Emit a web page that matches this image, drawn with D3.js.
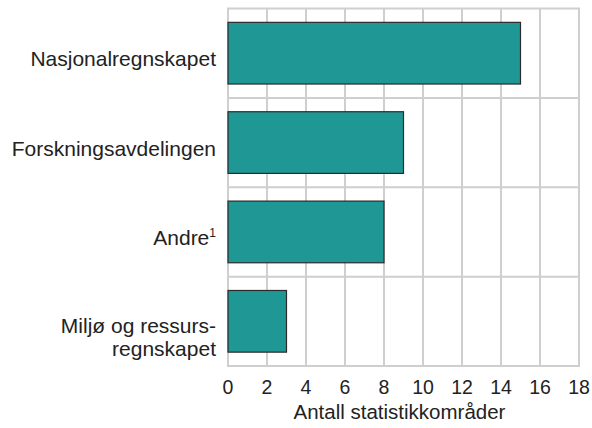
<!DOCTYPE html>
<html>
<head>
<meta charset="utf-8">
<script src="https://cdn.jsdelivr.net/npm/d3@7"></script>
<style>
  body { margin: 0; background: #fff; }
  svg { font-family: "Liberation Sans", Arial, sans-serif; }
</style>
</head>
<body>
<div id="page"></div>
<script>
const categories = ['Nasjonalregnskapet', 'Forskningsavdelingen', 'Andre', 'Miljø og ressursregnskapet'];
const labelLines = [['Nasjonalregnskapet'], ['Forskningsavdelingen'], ['Andre'], ['Miljø og ressurs-', 'regnskapet']];
const values = [15, 9, 8, 3];
const xTicks = [0, 2, 4, 6, 8, 10, 12, 14, 16, 18];
const xTitle = 'Antall statistikkområder';

const width = 592;
const height = 428;
const margin = { top: 8.5, right: 13, bottom: 62, left: 228 };

const svg = d3.select('#page')
              .append('svg')
              .attr('width', width)
              .attr('height', height);

const x = d3.scaleLinear()
            .domain([0, 18])
            .range([margin.left, width - margin.right]);

const y = d3.scaleBand()
            .domain(categories)
            .range([margin.top, height - margin.bottom])
            .paddingInner(0.31)
            .paddingOuter(0.155);

const step = y.step();
const gridColor = '#cfcfcf';

// vertical grid
svg.append('g')
   .selectAll('line')
   .data(xTicks)
   .enter()
   .append('line')
   .attr('x1', d => x(d))
   .attr('x2', d => x(d))
   .attr('y1', margin.top)
   .attr('y2', height - margin.bottom)
   .attr('stroke', gridColor)
   .attr('stroke-width', 2);

// horizontal grid at band boundaries
const boundaries = d3.range(categories.length + 1).map(i => margin.top + i * step);
svg.append('g')
   .selectAll('line')
   .data(boundaries)
   .enter()
   .append('line')
   .attr('x1', x(0) - 1)
   .attr('x2', x(18) + 1)
   .attr('y1', d => d)
   .attr('y2', d => d)
   .attr('stroke', gridColor)
   .attr('stroke-width', 2);

// bars
svg.append('g')
   .selectAll('rect')
   .data(values)
   .enter()
   .append('rect')
   .attr('x', x(0))
   .attr('y', (d, i) => y(categories[i]))
   .attr('width', d => x(d) - x(0))
   .attr('height', y.bandwidth())
   .attr('fill', '#1f9794')
   .attr('stroke', '#2b2b2b')
   .attr('stroke-width', 1.2);

// category labels
const labels = svg.append('g')
                  .selectAll('text')
                  .data(labelLines)
                  .enter()
                  .append('text')
                  .attr('text-anchor', 'end')
                  .attr('font-size', 21)
                  .attr('fill', '#222');

labels.each(function(lines, i) {
  const cy = y(categories[i]) + y.bandwidth() / 2;
  const t = d3.select(this);
  const lh = 22.5;
  lines.forEach((line, j) => {
    t.append('tspan')
     .attr('x', x(0) - 12)
     .attr('y', lines.length > 1 ? cy + 12 + j * lh : cy + 13)
     .text(line);
    if (categories[i] === 'Andre') {
      t.append('tspan')
       .attr('font-size', 12)
       .attr('dy', -8)
       .text('1');
    }
  });
});

// x tick labels
svg.append('g')
   .selectAll('text')
   .data(xTicks)
   .enter()
   .append('text')
   .attr('x', d => x(d))
   .attr('y', 394)
   .attr('text-anchor', 'middle')
   .attr('font-size', 19.5)
   .attr('fill', '#222')
   .text(d => d);

svg.append('text')
   .attr('x', x(9) - 4)
   .attr('y', 419)
   .attr('text-anchor', 'middle')
   .attr('font-size', 20.5)
   .attr('fill', '#222')
   .text(xTitle);
</script>
</body>
</html>
